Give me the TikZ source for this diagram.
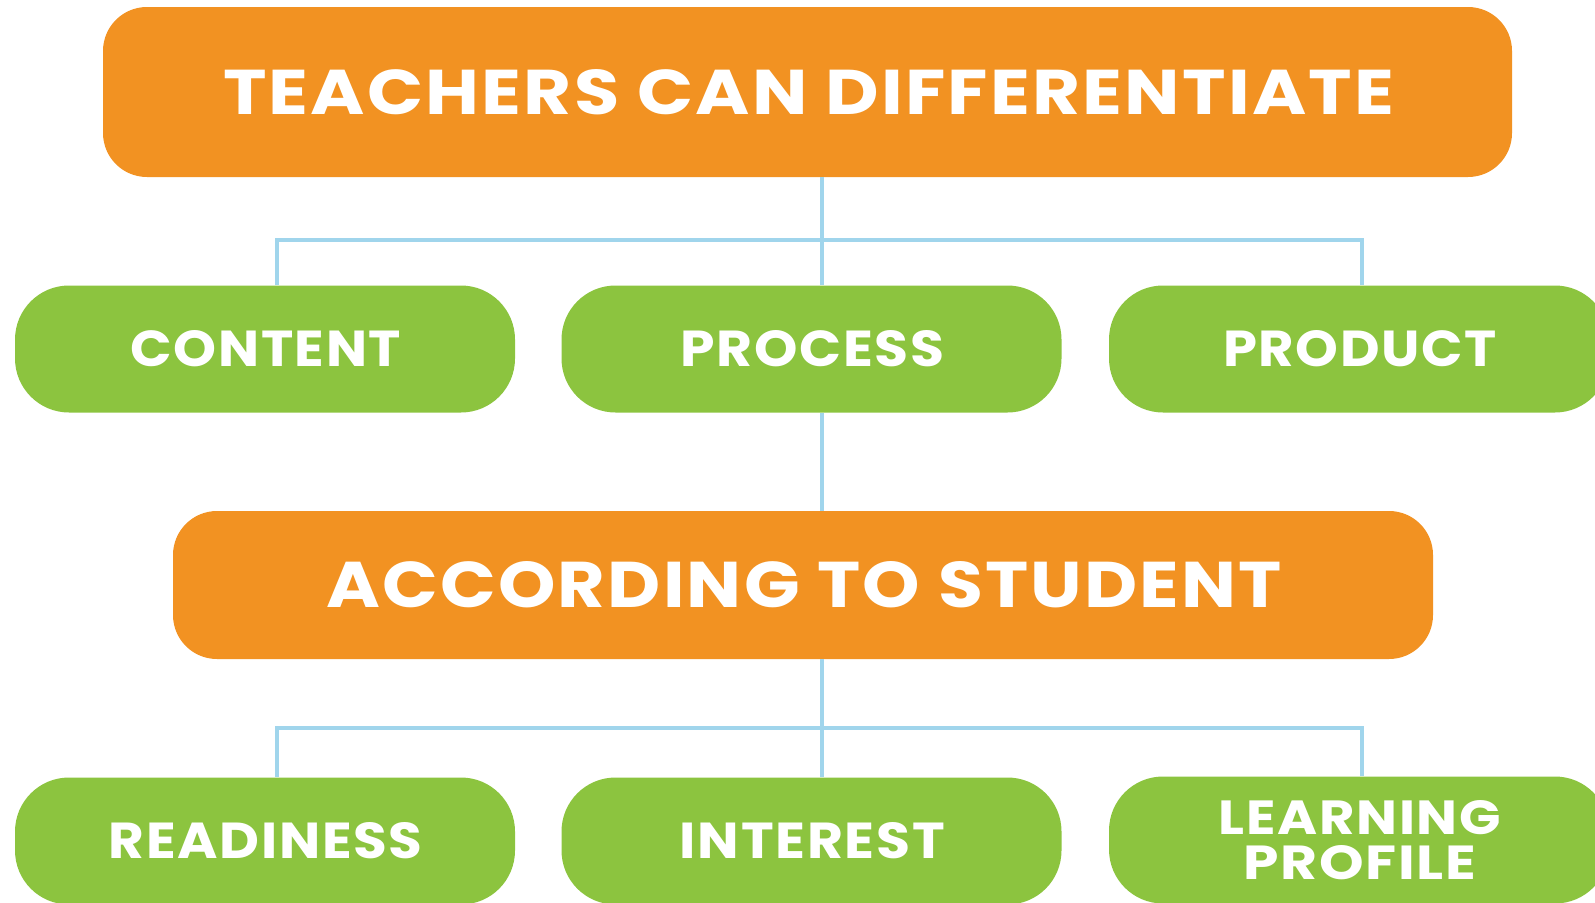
\documentclass[tikz,border=0pt]{standalone}
\usepackage{fontspec}
\setmainfont{Poppins}
\newfontfamily\lblfont{Poppins}[LetterSpace=3]
\definecolor{orng}{HTML}{F29222}
\definecolor{grn}{HTML}{8CC43F}
\definecolor{lblue}{HTML}{A0D5EC}
\newcommand\fittxt[3]{\resizebox{#1pt}{#2pt}{\lblfont\bfseries #3\kern-0.03em}}
\begin{document}
\begin{tikzpicture}[x=1pt,y=-1pt,
  obox/.style={fill=orng, rounded corners=44pt, inner sep=0pt, text=white, align=center},
  gbox/.style={fill=grn, rounded corners=54pt, inner sep=0pt, text=white, align=center,
    minimum width=500pt, minimum height=127pt},
  link/.style={draw=lblue, line width=4.5pt}]
\useasboundingbox (0,0) rectangle (1595,902);
\clip (0,0) rectangle (1595,902);
\node[obox, minimum width=1409pt, minimum height=170pt] (top) at (807.5,92) {\fittxt{1168}{45}{TEACHERS CAN DIFFERENTIATE}};
\node[gbox] (c1) at (265,349) {\fittxt{269}{36}{CONTENT}};
\node[gbox] (c2) at (811.5,349) {\fittxt{262}{36}{PROCESS}};
\node[gbox] (c3) at (1359,349) {\fittxt{272}{36}{PRODUCT}};
\node[obox, minimum width=1260pt, minimum height=148pt] (mid) at (803,585) {\fittxt{953}{46}{ACCORDING TO STUDENT}};
\node[gbox] (b1) at (265,841) {\fittxt{312}{36}{READINESS}};
\node[gbox] (b2) at (811.5,841) {\fittxt{263}{36}{INTEREST}};
\node[gbox, font={\fontsize{10}{45}\selectfont}] (b3) at (1359,840) {\fittxt{280}{34}{LEARNING}\\\fittxt{231}{34}{PROFILE}};
\coordinate (j1) at (822,240);
\coordinate (l1) at (277,240);
\coordinate (r1) at (1362,240);
\coordinate (j2) at (822,728);
\coordinate (l2) at (277,728);
\coordinate (r2) at (1362,728);
\draw[link] (l1 |- c1.north) -- (l1) -- (r1) -- (r1 |- c3.north);
\draw[link] (top.south -| j1) -- (c2.north -| j1);
\draw[link] (c2.south -| j1) -- (mid.north -| j1);
\draw[link] (l2 |- b1.north) -- (l2) -- (r2) -- (r2 |- b3.north);
\draw[link] (mid.south -| j2) -- (b2.north -| j2);
\end{tikzpicture}
\end{document}
